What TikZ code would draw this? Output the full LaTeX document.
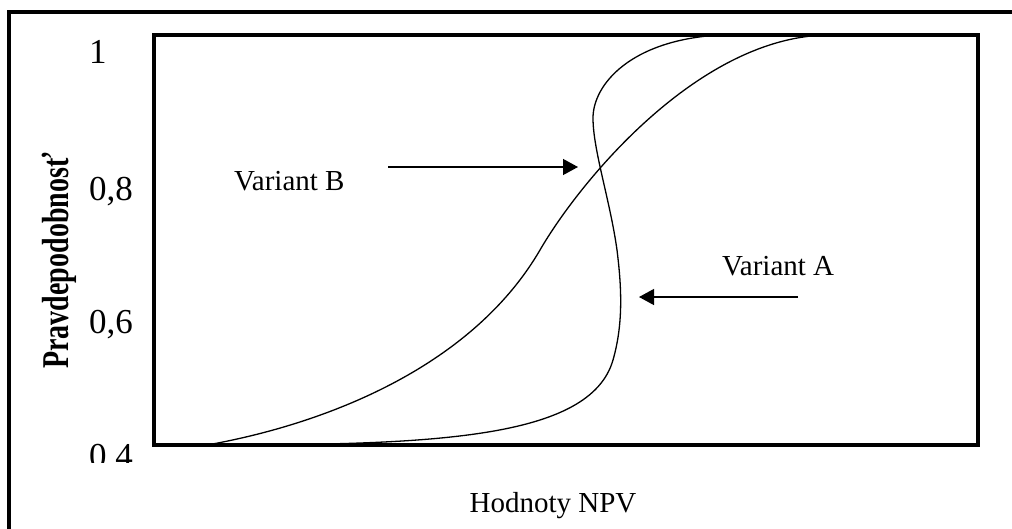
\documentclass[tikz,border=0pt]{standalone}
\usepackage{fontspec}
\setmainfont{Liberation Serif}
\usetikzlibrary{arrows.meta}
\begin{document}
\begin{tikzpicture}[x=1pt,y=-1pt,
  frame/.style={line width=4.5pt},
  curve/.style={line width=1.3pt},
  arr/.style={line width=1.3pt,-{Triangle[length=15pt,width=16pt]}},
  tick/.style={anchor=base west,inner sep=0pt,font=\fontsize{35}{40}\selectfont},
  lbl/.style={inner sep=0pt,font=\fontsize{29}{34}\selectfont}]
\useasboundingbox (0,0) rectangle (1012,528);
\clip (0,0) rectangle (1012,528);
% outer frame (cut by page edge)
\draw[frame] (9,560) -- (9,12) -- (1040,12);
% inner frame
\draw[frame] (154,35) rectangle (978,445);
% tick labels
\node[tick] (t1) at (89,63) {1};
\node[tick] (t08) at (89,200) {0,8};
\node[tick] (t06) at (89,333) {0,6};
\begin{scope}
  \clip (60,440) rectangle (150,462);
  \node[tick] (t04) at (89,467) {0,4};
\end{scope}
% axis titles
\node[rotate=90,anchor=base,inner sep=0pt,font=\fontsize{28}{32}\selectfont\bfseries] (ylab) at (68,261) {\scalebox{1}[1.35]{Pravdepodobnosť}};
\node[lbl,anchor=base] (xlab) at (553,512) {Hodnoty NPV};
% curves
\draw[curve] (207,445) .. controls (320,425) and (470,370) .. (540,250)
             .. controls (580,181) and (700,35) .. (830,35);
\draw[curve] (207,445) .. controls (430,445) and (590,440) .. (613,360)
             .. controls (623,325) and (622,290) .. (617,250)
             .. controls (610,200) and (593,150) .. (593,118)
             .. controls (593,85) and (630,40) .. (720,35);
% labels and arrows
\node[lbl,anchor=base west] (vb) at (234,190) {Variant B};
\node[lbl,anchor=base west] (va) at (722,275) {Variant A};
\coordinate (bs) at (388,167);
\coordinate (be) at (578,167);
\coordinate (as) at (798,297);
\coordinate (ae) at (639,297);
\draw[arr] (bs) -- (be);
\draw[arr] (as) -- (ae);
\end{tikzpicture}
\end{document}
